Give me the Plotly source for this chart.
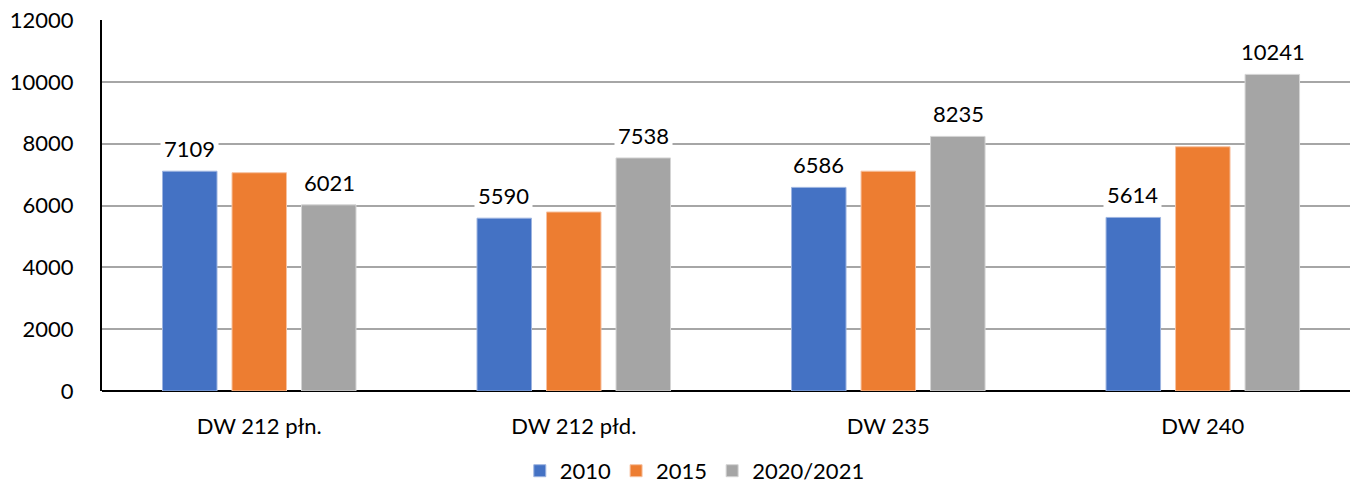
import plotly.graph_objects as go

# data
roads = ['DW 212 płn.', 'DW 212 płd.', 'DW 235', 'DW 240']
v2010 = [7109, 5590, 6586, 5614]
v2015 = [7060, 5790, 7110, 7900]
v2021 = [6021, 7538, 8235, 10241]

y_ticks = [0, 2000, 4000, 6000, 8000, 10000, 12000]
y_tick_text = ['0', '2000', '4000', '6000', '8000', '10000', '12000']

FONT = 'Lato, Open Sans, sans-serif'

fig = go.Figure()
fig.add_trace(go.Bar(x=roads, y=v2010, name='2010', marker=dict(color='#4472c4', line=dict(color='#9db4e0', width=1))))
fig.add_trace(go.Bar(x=roads, y=v2015, name='2015', marker=dict(color='#ed7d31', line=dict(color='#f7c2a0', width=1))))
fig.add_trace(go.Bar(x=roads, y=v2021, name='2020/2021', marker=dict(color='#a5a5a5', line=dict(color='#d4d4d4', width=1))))

# value labels with a white box (they hide the gridlines like in the original)
for series, shift in [(v2010, -70), (v2021, 70)]:
    for road, val in zip(roads, series):
        fig.add_annotation(
            x=road, y=val, xref='x', yref='y',
            text=str(val), showarrow=False,
            xanchor='center', yanchor='bottom',
            xshift=shift, yshift=5,
            bgcolor='white', borderpad=3,
            font=dict(family=FONT, size=22, color='#000000'),
        )

fig.update_layout(
    width=1350, height=492,
    margin=dict(l=102, r=0, t=20, b=101),
    plot_bgcolor='white', paper_bgcolor='white',
    barmode='group', bargap=0.337, bargroupgap=0.216,
    font=dict(family=FONT, size=22, color='#000000'),
    showlegend=True,
    legend=dict(orientation='h', x=0.475, xanchor='center', y=-0.272, yanchor='bottom',
                font=dict(size=22), itemwidth=30, traceorder='normal'),
)
fig.update_xaxes(
    range=[-0.5, 3.468], showgrid=False, automargin=False,
    showline=False, ticks='', ticklabelstandoff=20,
    tickfont=dict(size=22),
)
fig.update_yaxes(
    range=[0, 12000], tickvals=y_ticks, ticktext=y_tick_text, automargin=False,
    showgrid=True, gridcolor='#a6a6a6', gridwidth=2,
    showline=True, linecolor='#000000', linewidth=2,
    zeroline=True, zerolinecolor='#000000', zerolinewidth=2,
    ticks='', ticklabelstandoff=22, tickfont=dict(size=22),
)

# drop the default page margin so the chart sits at the window corner
fig.write_html('out.html', config={'displayModeBar': False},
               post_script="document.body.style.margin='0';document.body.style.overflow='hidden';")
